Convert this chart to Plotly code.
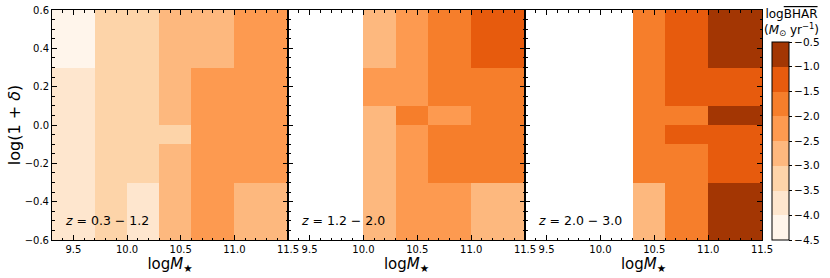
import plotly.graph_objects as go
from plotly.subplots import make_subplots

# ---- data ----
x_edges = [9.3, 9.7, 10.0, 10.3, 10.6, 11.0, 11.5]
y_edges = [-0.6, -0.3, -0.1, 0.0, 0.1, 0.3, 0.6]
N = None
# rows from bottom (y=-0.6) to top (y=0.6)
z_low = [
    [-3.75, -3.25, -3.75, -2.75, -2.25, -2.75],
    [-3.75, -3.25, -3.25, -2.75, -2.25, -2.25],
    [-3.75, -3.25, -3.25, -3.25, -2.25, -2.25],
    [-3.75, -3.25, -3.25, -2.75, -2.25, -2.25],
    [-3.75, -3.25, -3.25, -2.75, -2.25, -2.25],
    [-4.25, -3.25, -3.25, -2.75, -2.75, -2.25],
]
z_mid = [
    [N, N, -2.75, -2.25, -2.25, -2.75],
    [N, N, -2.75, -2.25, -1.75, -1.75],
    [N, N, -2.75, -2.25, -1.75, -1.75],
    [N, N, -2.75, -1.75, -2.25, -1.75],
    [N, N, -2.25, -2.25, -1.75, -1.75],
    [N, N, -2.75, -2.25, -1.75, -1.25],
]
z_high = [
    [N, N, N, -2.75, -1.75, -0.75],
    [N, N, N, -1.75, -1.75, -1.25],
    [N, N, N, -1.75, -1.25, -1.25],
    [N, N, N, -1.75, -1.75, -0.75],
    [N, N, N, -1.75, -1.25, -1.25],
    [N, N, N, -1.75, -1.25, -0.75],
]
panel_labels = ["<i>z</i> = 0.3 − 1.2", "<i>z</i> = 1.2 − 2.0", "<i>z</i> = 2.0 − 3.0"]
x_ticks = [9.5, 10.0, 10.5, 11.0, 11.5]
cbar_ticks = [-4.5, -4.0, -3.5, -3.0, -2.5, -2.0, -1.5, -1.0, -0.5]
colors = ["#fff5eb", "#fee6ce", "#fdd4a9", "#fdb87e",
          "#fd9a50", "#f67e2b", "#e75b0d", "#a33603"]

zmin, zmax = -4.5, -0.5
nb = len(colors)
cscale = []
for i, c in enumerate(colors):
    cscale.append([i / nb, c])
    cscale.append([(i + 1) / nb, c])

FONT = "DejaVu Sans"
W, H = 830, 278
ml, mt = 52, 10
mr, mb = 830 - 762, 278 - 240
pw = W - ml - mr
ph = H - mt - mb
bounds = [52, 288, 525, 762]
doms = [[(bounds[i] - ml) / pw, (bounds[i + 1] - ml) / pw] for i in range(3)]

fig = make_subplots(rows=1, cols=3, shared_yaxes=True, horizontal_spacing=0)

for i, z in enumerate([z_low, z_mid, z_high]):
    hm = go.Heatmap(
        x=x_edges, y=y_edges, z=z, zmin=zmin, zmax=zmax,
        colorscale=cscale, showscale=(i == 0), hoverongaps=False,
    )
    if i == 0:
        hm.colorbar = dict(
            x=(772 - ml) / pw, xanchor="left", xpad=0,
            y=0, yanchor="bottom", ypad=0,
            len=(240 - 42) / ph, lenmode="fraction",
            thickness=17, outlinewidth=1, outlinecolor="black",
            tickvals=cbar_ticks, tickformat=".1f",
            ticks="outside", ticklen=3, tickcolor="black",
            tickfont=dict(family=FONT, size=10.5, color="black"),
        )
    fig.add_trace(hm, row=1, col=i + 1)

    xa = "xaxis" if i == 0 else f"xaxis{i+1}"
    fig.layout[xa].update(
        domain=doms[i], range=[9.3, 11.5], automargin=False,
        tickvals=x_ticks, tickformat=".1f",
        ticks="inside", ticklen=5, tickcolor="black", tickwidth=1,
        minor=dict(dtick=0.1, tick0=9.3, ticks="inside", ticklen=2.5,
                   tickcolor="black", showgrid=False),
        showline=True, linecolor="black", linewidth=1, mirror="allticks",
        showgrid=False, zeroline=False,
        tickfont=dict(family=FONT, size=10, color="black"),
        title=dict(text="log<i>M</i><sub>★</sub>", standoff=0,
                   font=dict(family=FONT, size=15, color="black")),
    )
    ya = "yaxis" if i == 0 else f"yaxis{i+1}"
    fig.layout[ya].update(
        range=[-0.6, 0.6], dtick=0.2, tick0=0, tickformat=".1f", automargin=False,
        ticks="inside", ticklen=5, tickcolor="black", tickwidth=1,
        minor=dict(dtick=0.05, ticks="inside", ticklen=2.5,
                   tickcolor="black", showgrid=False),
        showline=True, linecolor="black", linewidth=1, mirror="allticks",
        showgrid=False, zeroline=False, showticklabels=(i == 0),
        tickfont=dict(family=FONT, size=10, color="black"),
    )
    fig.add_annotation(
        text=panel_labels[i], x=9.4, y=-0.5, xref=f"x{'' if i == 0 else i+1}",
        yref="y", xanchor="left", yanchor="middle", showarrow=False,
        font=dict(family=FONT, size=12.5, color="black"),
    )

fig.layout.yaxis.title = dict(text="log(1 + <i>δ</i>)", standoff=0,
                              font=dict(family=FONT, size=16, color="black"))

fig.add_annotation(
    text="log<span style='text-decoration:overline'>BHAR</span><br>(<i>M</i><sub>⊙</sub> yr<sup>−1</sup>)",
    x=(791 - ml) / pw, y=(240 - 22.5) / ph, xref="paper", yref="paper",
    xanchor="center", yanchor="middle", showarrow=False,
    font=dict(family=FONT, size=12, color="black"),
)

fig.update_layout(
    width=W, height=H, margin=dict(l=ml, r=mr, t=mt, b=mb, pad=0, autoexpand=False),
    paper_bgcolor="white", plot_bgcolor="white",
    font=dict(family=FONT, color="black"),
)
fig.write_html(
    "out.html",
    config={"displayModeBar": False},
    post_script="document.body.style.margin='0';document.body.style.padding='0';",
)
